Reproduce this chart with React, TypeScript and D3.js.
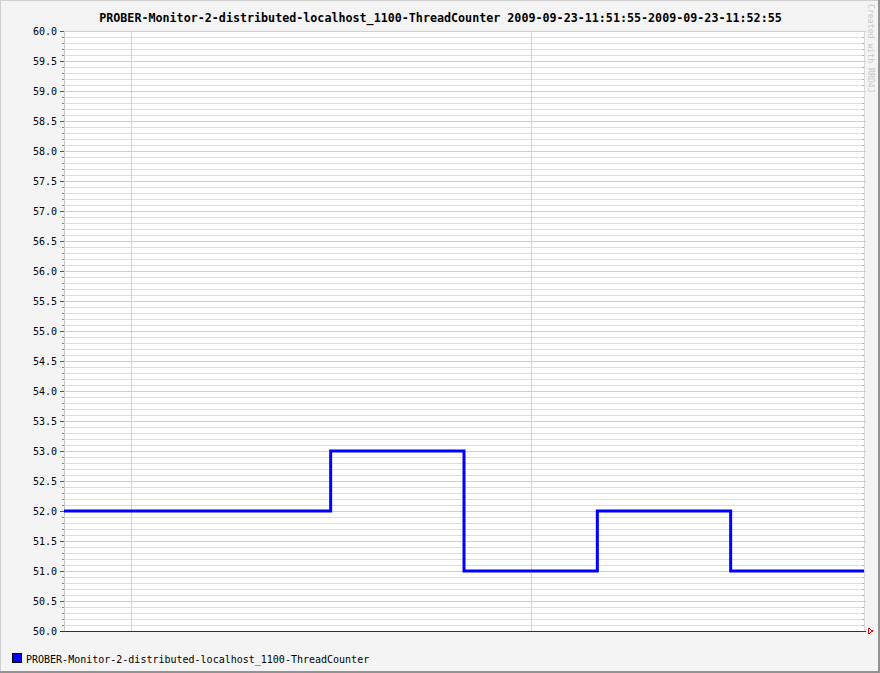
import * as d3 from "d3";

const W = 880;
const H = 673;
const M = { left: 64, right: 864, top: 31, bottom: 631 };

const title =
  "PROBER-Monitor-2-distributed-localhost_1100-ThreadCounter 2009-09-23-11:51:55-2009-09-23-11:52:55";
const seriesName = "PROBER-Monitor-2-distributed-localhost_1100-ThreadCounter";

// step data: seconds since 11:51:55, value held until next point
const times = [0, 20, 30, 40, 50, 60];
const values = [52, 53, 51, 52, 51, 51];
const vGridSeconds = [5, 35];

const mono = "'DejaVu Sans Mono', monospace";

export default function App() {
  const x = d3.scaleLinear().domain([0, 60]).range([M.left, M.right]);
  const y = d3.scaleLinear().domain([50, 60]).range([M.bottom, M.top]);

  const minor = d3.range(0, 101).map((i) => 50 + i * 0.1);
  const major = d3.range(0, 21).map((i) => 50 + i * 0.5);

  const pts = times.map((t, i) => [t, values[i]] as [number, number]);
  const line = d3
    .line<[number, number]>()
    .x((d) => x(d[0]))
    .y((d) => y(d[1]))
    .curve(d3.curveStepAfter);

  return (
    <svg
      width={W}
      height={H}
      style={{ position: "absolute", left: 0, top: 0 }}
      shapeRendering="crispEdges"
    >
      <rect x={0} y={0} width={W} height={H} fill="#f4f4f4" />
      <line x1={0.5} y1={0} x2={0.5} y2={H} stroke="#cfcfcf" />
      <line x1={0} y1={0.5} x2={W} y2={0.5} stroke="#cfcfcf" />
      <line x1={W - 1} y1={0} x2={W - 1} y2={H} stroke="#929292" strokeWidth={2} />
      <line x1={0} y1={H - 1} x2={W} y2={H - 1} stroke="#929292" strokeWidth={2} />

      <rect x={M.left} y={M.top} width={M.right - M.left} height={M.bottom - M.top} fill="#ffffff" />

      {/* minor grid */}
      {minor.map((v, i) => (
        <g key={"mn" + i}>
          <line x1={M.left} x2={M.right} y1={Math.round(y(v)) + 0.5} y2={Math.round(y(v)) + 0.5} stroke="#dedede" />
          <line x1={M.left - 2} x2={M.left} y1={Math.round(y(v)) + 0.5} y2={Math.round(y(v)) + 0.5} stroke="#888" />
          <line x1={M.right - 2} x2={M.right} y1={Math.round(y(v)) + 0.5} y2={Math.round(y(v)) + 0.5} stroke="#b0b0b0" />
        </g>
      ))}
      {vGridSeconds.map((s, i) => (
        <line key={"vg" + i} x1={Math.round(x(s)) + 0.5} x2={Math.round(x(s)) + 0.5} y1={M.top} y2={M.bottom} stroke="#d2d2d2" />
      ))}
      <line x1={M.right + 0.5} x2={M.right + 0.5} y1={M.top} y2={M.bottom} stroke="#d8d8d8" />
      {/* major grid */}
      {major.map((v, i) => (
        <g key={"mj" + i}>
          <line x1={M.left} x2={M.right + 2} y1={Math.round(y(v)) + 0.5} y2={Math.round(y(v)) + 0.5} stroke="#f2c0c0" />
          <line x1={M.left - 4} x2={M.left} y1={Math.round(y(v)) + 0.5} y2={Math.round(y(v)) + 0.5} stroke="#555" />
          <text
            x={57}
            y={y(v)}
            dy="0.35em"
            textAnchor="end"
            fontFamily={mono}
            fontSize={10}
            fill="#000"
            shapeRendering="auto"
          >
            {v.toFixed(1)}
          </text>
        </g>
      ))}
      <line x1={M.left + 0.5} x2={M.left + 0.5} y1={M.top} y2={M.bottom} stroke="#c8c8c8" />

      {/* series */}
      <path d={line(pts) ?? ""} fill="none" stroke="#0000ff" strokeWidth={3} shapeRendering="auto" />

      {/* x axis */}
      <line x1={M.left - 4} x2={M.right + 2} y1={M.bottom + 0.5} y2={M.bottom + 0.5} stroke="#5a2020" />
      <path
        d={`M${M.right + 4},${M.bottom - 3} L${M.right + 9},${M.bottom} L${M.right + 4},${M.bottom + 3} Z`}
        fill="none"
        stroke="#ff0000"
      />

      {/* title */}
      <text x={440.5} y={22} textAnchor="middle" fontFamily={mono} fontSize={11.7} fontWeight="bold" fill="#000" shapeRendering="auto">
        {title}
      </text>
      <text
        transform={`translate(868,4) rotate(90)`}
        fontFamily={mono}
        fontSize={8.2}
        fill="#c8c8c8"
        shapeRendering="auto"
      >
        Created with RRD4J
      </text>

      {/* legend */}
      <rect x={12.5} y={653.5} width={9} height={9} fill="#0000ff" stroke="#000" />
      <text x={26} y={662.5} fontFamily={mono} fontSize={10} fill="#000" shapeRendering="auto">
        {seriesName}
      </text>
    </svg>
  );
}
